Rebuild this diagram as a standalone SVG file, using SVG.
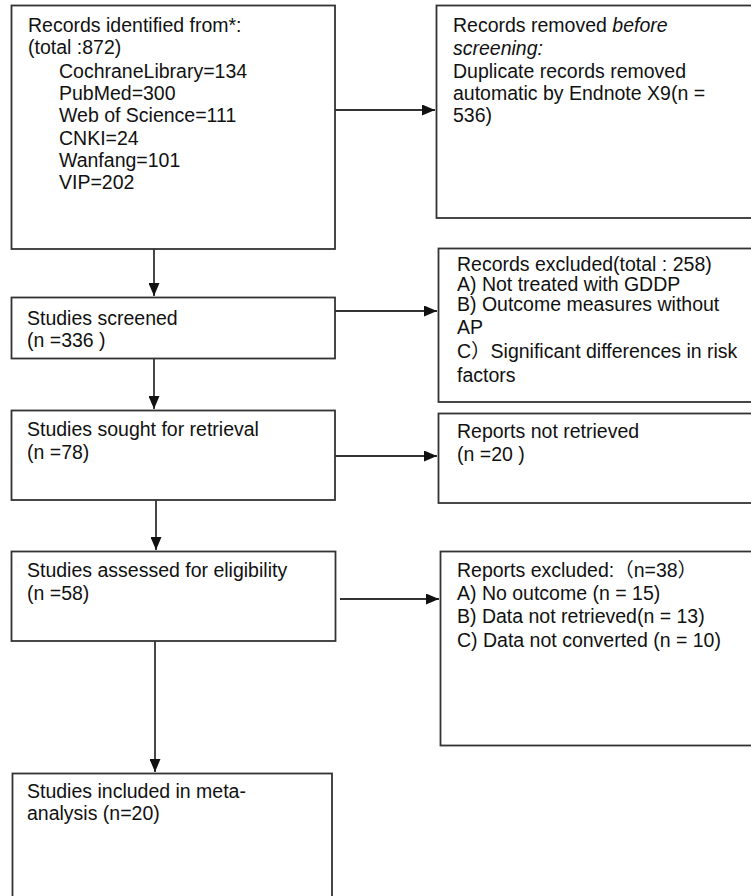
<svg xmlns="http://www.w3.org/2000/svg" width="751" height="896" viewBox="0 0 751 896">
<style>
.box{fill:#fff;stroke:#333;stroke-width:1.8}
.t{font-family:"Liberation Sans",Arial,"Noto Sans CJK SC",sans-serif;font-size:19.5px;fill:#111}
.c{fill:none;stroke:#333;stroke-width:1.8}
</style>
<defs>
<marker id="ah" markerWidth="13" markerHeight="11" refX="13" refY="5.5" orient="auto" markerUnits="userSpaceOnUse">
<path d="M0,0 L13,5.5 L0,11 Z" fill="#111"/>
</marker>
</defs>
<rect width="751" height="896" fill="#fff"/>
<g id="connectors">
<line class="c" x1="335" y1="110" x2="435" y2="110" marker-end="url(#ah)"/>
<line class="c" x1="154" y1="249" x2="154" y2="296" marker-end="url(#ah)"/>
<line class="c" x1="335" y1="311" x2="437" y2="311" marker-end="url(#ah)"/>
<line class="c" x1="154" y1="359" x2="154" y2="409" marker-end="url(#ah)"/>
<line class="c" x1="335" y1="456" x2="437" y2="456" marker-end="url(#ah)"/>
<line class="c" x1="156" y1="500" x2="156" y2="550" marker-end="url(#ah)"/>
<line class="c" x1="340" y1="599" x2="439" y2="599" marker-end="url(#ah)"/>
<line class="c" x1="155" y1="641" x2="155" y2="772" marker-end="url(#ah)"/>
</g>
<g id="identified">
<rect class="box" x="11.5" y="5.5" width="323.5" height="243.5"/>
<text class="t" x="28" y="32">Records identified from*:</text>
<text class="t" x="28" y="54">(total :872)</text>
<text class="t" x="59" y="78">CochraneLibrary=134</text>
<text class="t" x="59" y="100">PubMed=300</text>
<text class="t" x="59" y="122">Web of Science=111</text>
<text class="t" x="59" y="145">CNKI=24</text>
<text class="t" x="59" y="167">Wanfang=101</text>
<text class="t" x="59" y="189">VIP=202</text>
</g>
<g id="removed">
<rect class="box" x="436.5" y="5.5" width="330" height="212.5"/>
<text class="t" x="453" y="32">Records removed <tspan font-style="italic">before</tspan></text>
<text class="t" x="453" y="55" font-style="italic">screening:</text>
<text class="t" x="453" y="78">Duplicate records removed</text>
<text class="t" x="453" y="100">automatic by Endnote X9(n =</text>
<text class="t" x="453" y="122">536)</text>
</g>
<g id="screened">
<rect class="box" x="11.5" y="297.5" width="323.5" height="61"/>
<text class="t" x="27" y="325">Studies screened</text>
<text class="t" x="27" y="347">(n =336 )</text>
</g>
<g id="excluded">
<rect class="box" x="438.5" y="248.5" width="330" height="153.5"/>
<text class="t" x="457" y="271">Records excluded(total : 258)</text>
<text class="t" x="457" y="291">A) Not treated with GDDP</text>
<text class="t" x="457" y="311">B) Outcome measures without</text>
<text class="t" x="457" y="334">AP</text>
<text class="t" x="457" y="358">C）Significant differences in risk</text>
<text class="t" x="457" y="382">factors</text>
</g>
<g id="sought">
<rect class="box" x="11.5" y="410.5" width="323.5" height="89.5"/>
<text class="t" x="27" y="436">Studies sought for retrieval</text>
<text class="t" x="27" y="459">(n =78)</text>
</g>
<g id="notretrieved">
<rect class="box" x="438.5" y="413.5" width="330" height="89.5"/>
<text class="t" x="457" y="438">Reports not retrieved</text>
<text class="t" x="457" y="461">(n =20 )</text>
</g>
<g id="assessed">
<rect class="box" x="11.5" y="551.5" width="324" height="89.5"/>
<text class="t" x="27" y="577">Studies assessed for eligibility</text>
<text class="t" x="27" y="600">(n =58)</text>
</g>
<g id="reportsexcluded">
<rect class="box" x="440.5" y="551.5" width="330" height="194"/>
<text class="t" x="457" y="577">Reports excluded:（n=38）</text>
<text class="t" x="457" y="600">A) No outcome (n = 15)</text>
<text class="t" x="457" y="623">B) Data not retrieved(n = 13)</text>
<text class="t" x="457" y="647">C) Data not converted (n = 10)</text>
</g>
<g id="included">
<rect class="box" x="12.5" y="773.5" width="319.5" height="140"/>
<text class="t" x="27" y="798">Studies included in meta-</text>
<text class="t" x="27" y="820">analysis (n=20)</text>
</g>
</svg>
